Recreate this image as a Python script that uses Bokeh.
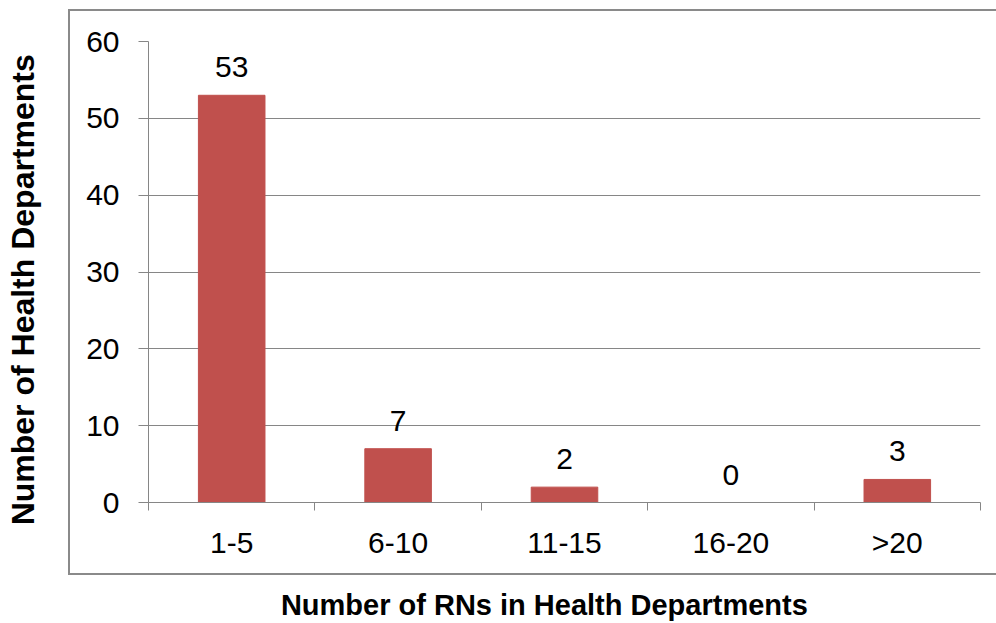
from bokeh.plotting import figure
from bokeh.models import (ColumnDataSource, FixedTicker, LabelSet, Range1d,
                          InlineStyleSheet)
from bokeh.core.properties import value
from bokeh.embed import file_html
from bokeh.resources import INLINE

categories = ["1-5", "6-10", "11-15", "16-20", ">20"]
counts = [53, 7, 2, 0, 3]
y_ticks = [0, 10, 20, 30, 40, 50, 60]
x_title = "Number of RNs in Health Departments"
y_title = "Number of Health Departments"

FONT = "Liberation Sans"
GRAY = "#868686"
BAR = "#C0504D"
NBSP = "\u00a0"

xs = [i + 0.5 for i in range(len(categories))]
src = ColumnDataSource(dict(x=xs, top=counts, label=[str(c) for c in counts]))

p = figure(width=996, height=623, output_backend="svg", toolbar_location=None,
           x_range=Range1d(0, len(categories)), y_range=Range1d(0, max(y_ticks)),
           min_border_left=148, min_border_right=16, min_border_top=41, min_border_bottom=120)
p.outline_line_color = None
p.background_fill_color = "white"
p.border_fill_color = "white"

p.vbar(x="x", top="top", width=0.4, bottom=0, source=src,
       fill_color=BAR, line_color=BAR)

labels = LabelSet(x="x", y="top", text="label", source=src, y_offset=18,
                  text_align="center", text_baseline="alphabetic",
                  text_font_size=value("30px"), text_font=value(FONT), text_color="black")
p.add_layout(labels)

# x axis
p.xaxis.ticker = FixedTicker(ticks=xs, minor_ticks=list(range(len(categories) + 1)))
p.xaxis.major_label_overrides = {x: c for x, c in zip(xs, categories)}
p.xaxis.major_tick_line_color = None
p.xaxis.minor_tick_line_color = GRAY
p.xaxis.minor_tick_out = 8
p.xaxis.minor_tick_in = 0
p.xaxis.axis_line_color = GRAY
p.xaxis.major_label_text_font = FONT
p.xaxis.major_label_text_font_size = "30px"
p.xaxis.major_label_text_color = "black"
p.xaxis.major_label_standoff = 15
# trailing no-break spaces shift the centred title a little left, as in the original
p.xaxis.axis_label = x_title + NBSP * 5
p.xaxis.axis_label_text_font = FONT
p.xaxis.axis_label_text_font_style = "bold"
p.xaxis.axis_label_text_font_size = "29px"
p.xaxis.axis_label_text_color = "black"
p.xaxis.axis_label_standoff = 27
p.xgrid.grid_line_color = None

# y axis
p.yaxis.ticker = FixedTicker(ticks=y_ticks)
p.yaxis.major_tick_line_color = GRAY
p.yaxis.major_tick_out = 10
p.yaxis.major_tick_in = 0
p.yaxis.minor_tick_line_color = None
p.yaxis.axis_line_color = GRAY
p.yaxis.major_label_text_font = FONT
p.yaxis.major_label_text_font_size = "30px"
p.yaxis.major_label_text_color = "black"
p.yaxis.major_label_standoff = 19
p.yaxis.axis_label = y_title + NBSP * 4
p.yaxis.axis_label_text_font = FONT
p.yaxis.axis_label_text_font_style = "bold"
p.yaxis.axis_label_text_font_size = "32px"
p.yaxis.axis_label_text_color = "black"
p.yaxis.axis_label_standoff = 42
p.ygrid.grid_line_color = GRAY
p.ygrid.grid_line_width = 1

# grey frame around the chart area
css = InlineStyleSheet(css="""
:host { position: relative; }
:host::after {
  content: "";
  position: absolute;
  left: 68px; top: 9px;
  width: calc(100% - 68px); height: 566px;
  border: 2px solid #8a8a8a; border-right: none;
  box-sizing: border-box; pointer-events: none;
}
""")
p.stylesheets = [css]

open("out.html", "w").write(file_html(p, INLINE))
